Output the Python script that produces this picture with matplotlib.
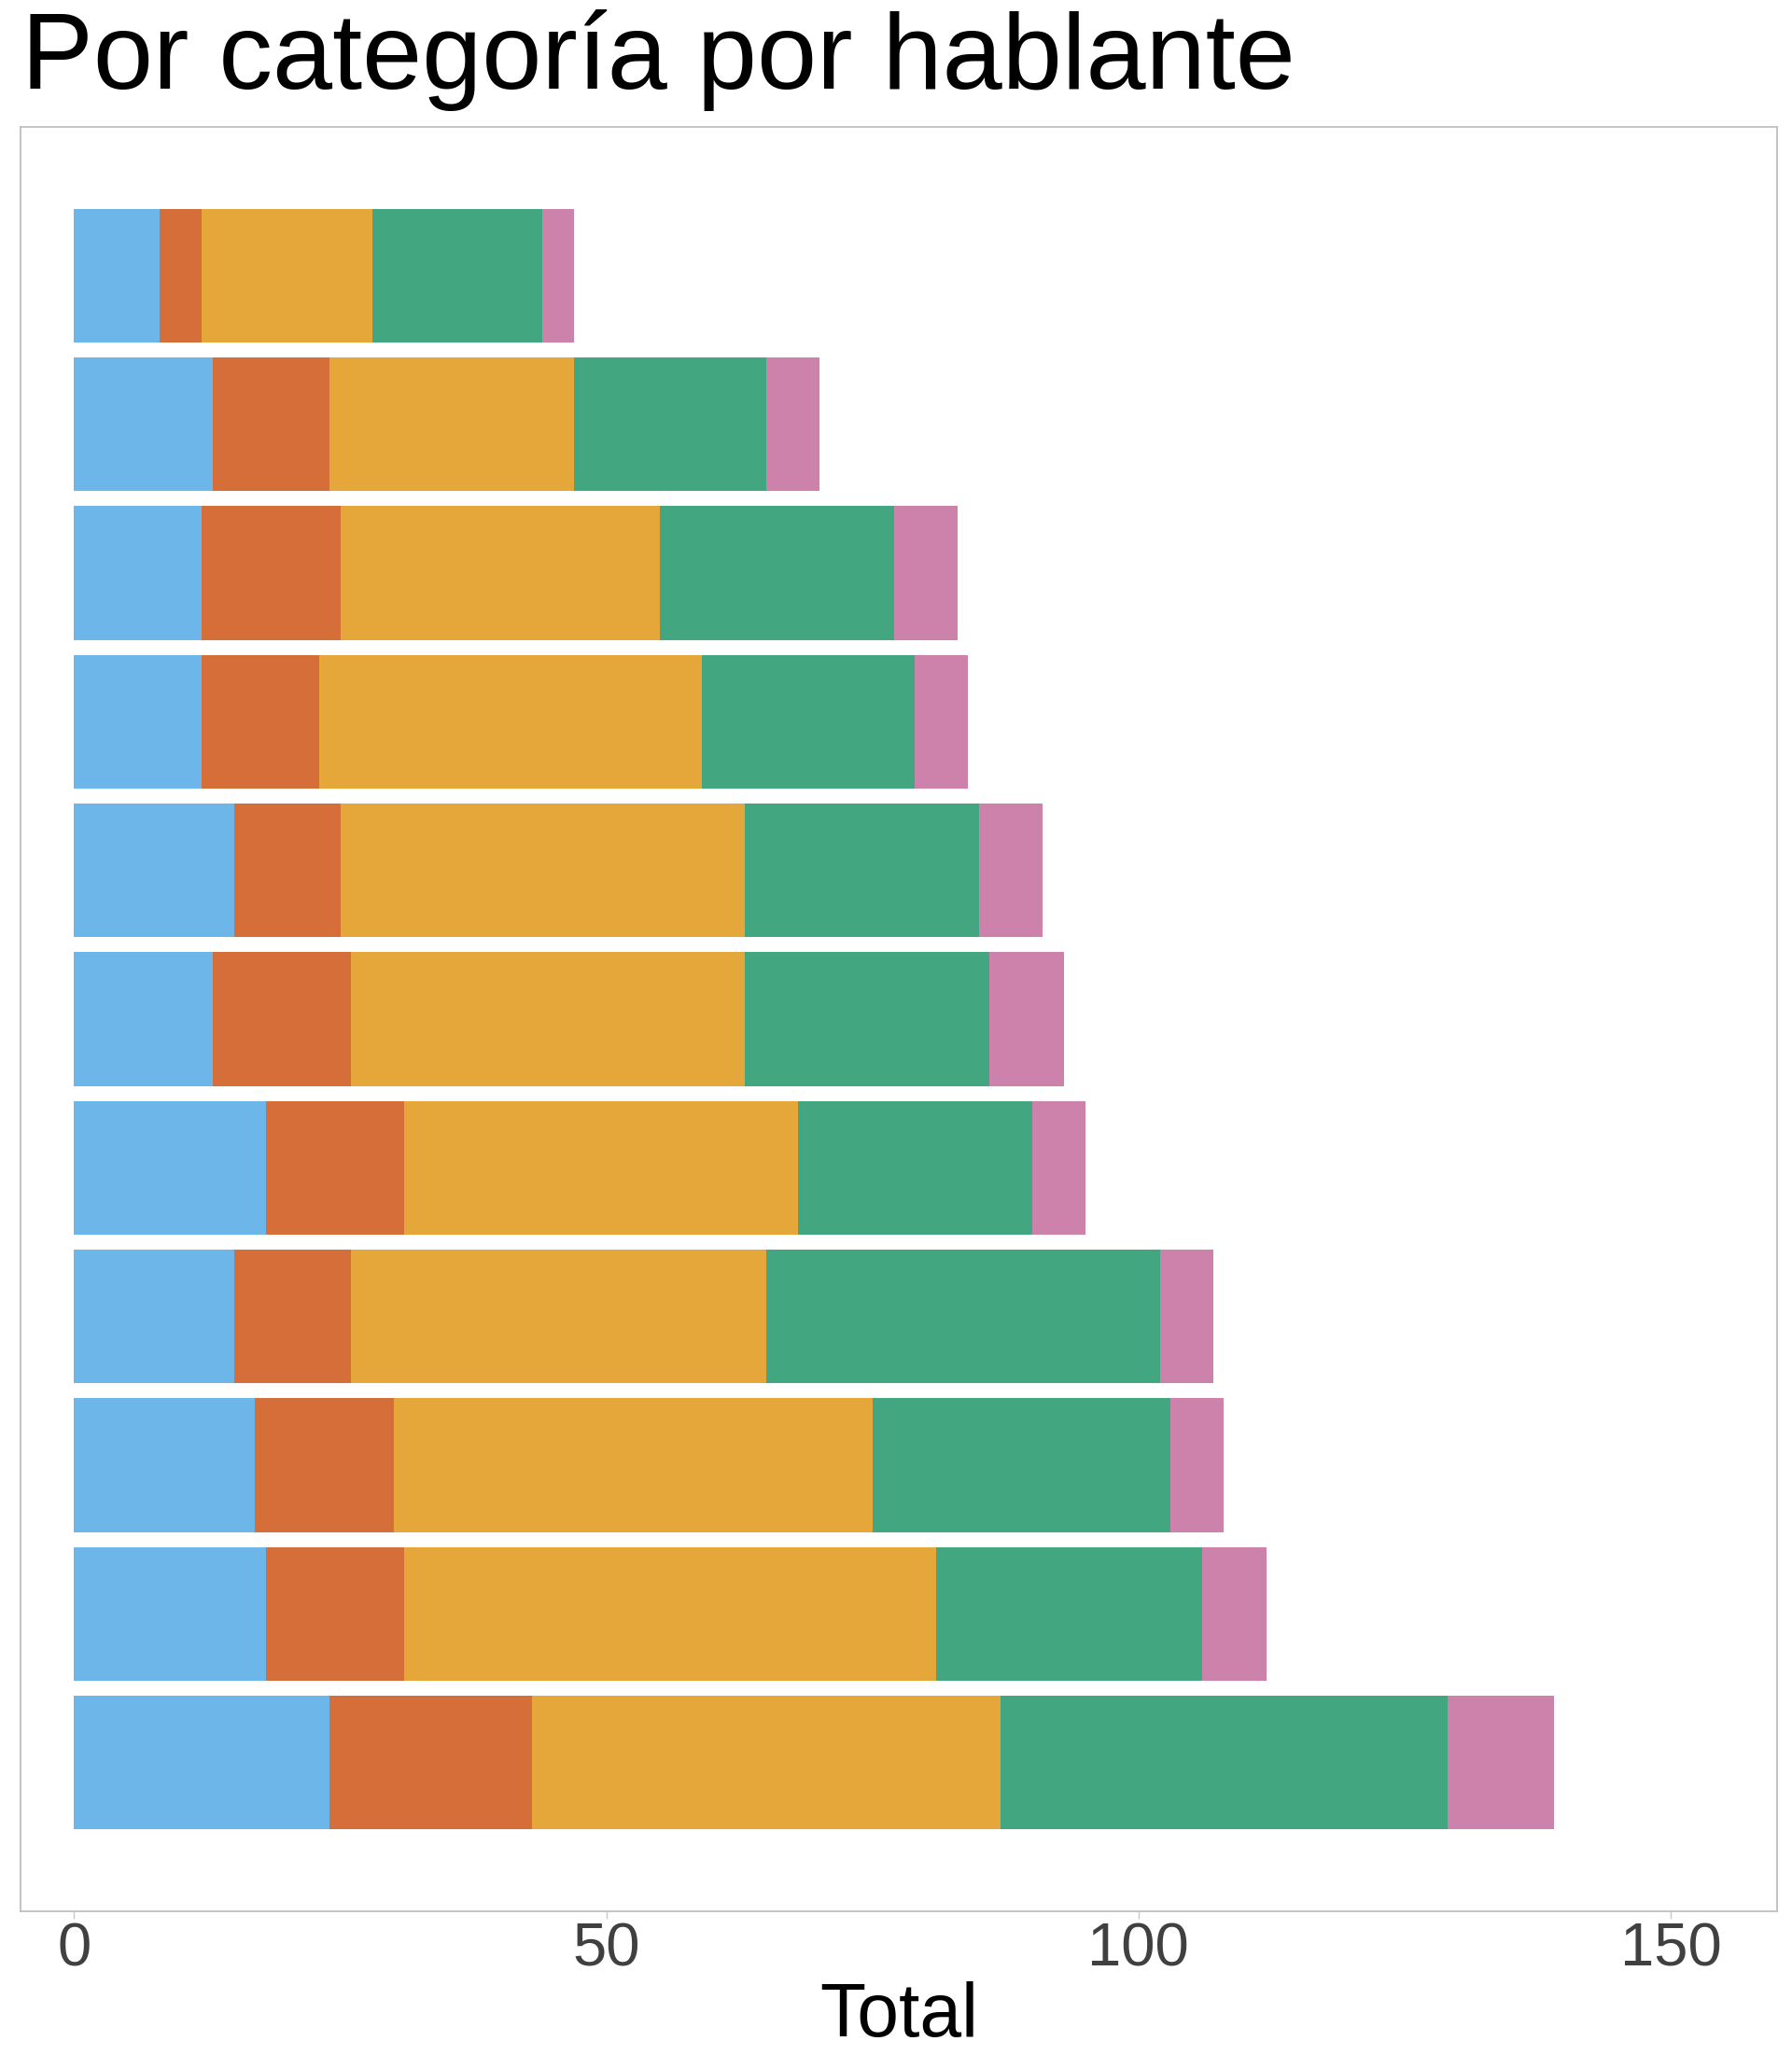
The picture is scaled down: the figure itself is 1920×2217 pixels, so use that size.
import matplotlib
matplotlib.use("Agg")
import matplotlib.pyplot as plt
import numpy as np

plt.rcParams['font.family'] = ['Liberation Sans', 'DejaVu Sans']

# one bar per speaker, top to bottom as in the picture
hablantes = ["H1", "H2", "H3", "H4", "H5", "H6", "H7", "H8", "H9", "H10", "H11"]
categorias = ["cat1", "cat2", "cat3", "cat4", "cat5"]
colores = ["#6DB6E9", "#D56E39", "#E5A63A", "#42A781", "#CC82AB"]

cat1 = [8, 13, 12, 12, 15, 13, 18, 15, 17, 18, 24]
cat2 = [4, 11, 13, 11, 10, 13, 13, 11, 13, 13, 19]
cat3 = [16, 23, 30, 36, 38, 37, 37, 39, 45, 50, 44]
cat4 = [16, 18, 22, 20, 22, 23, 22, 37, 28, 25, 42]
cat5 = [3, 5, 6, 5, 6, 7, 5, 5, 5, 6, 10]
series = [cat1, cat2, cat3, cat4, cat5]

fig = plt.figure(figsize=(19.2, 22.17), dpi=100)
ax = fig.add_axes([0.0117, 0.0762, 0.98, 0.8625])

y = np.arange(len(hablantes))[::-1]
left = np.zeros(len(hablantes))
for nombre, vals, col in zip(categorias, series, colores):
    ax.barh(y, vals, left=left, height=0.9, color=col, label=nombre)
    left += np.array(vals)

ax.set_xlim(-5, 160)
ax.set_ylim(-1, 11)
ax.set_xticks([0, 50, 100, 150])
ax.set_yticks([])
ax.tick_params(axis='x', direction='out', length=6, width=1, color='#c8c8c8',
               labelsize=47, labelcolor='#404040', pad=2)
for s in ax.spines.values():
    s.set_color('#bfbfbf')
    s.set_linewidth(1.3)

ax.set_xlabel("Total", fontsize=58, labelpad=3)
fig.text(0.012, 0.957, "Por categoría por hablante", fontsize=83,
         ha='left', va='baseline')

fig.savefig("out.png", dpi=100)
